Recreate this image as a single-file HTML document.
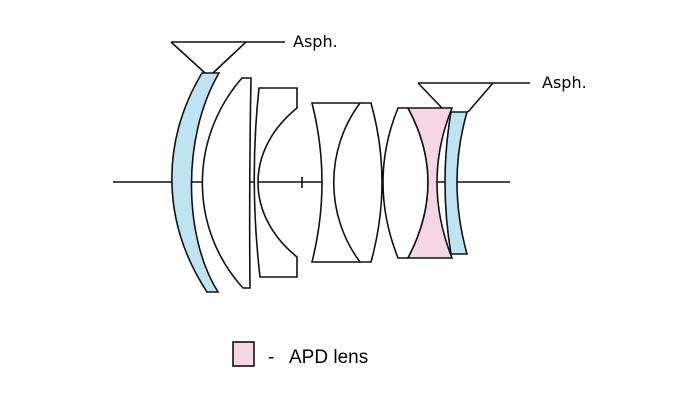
<!DOCTYPE html>
<html><head><style>
html,body{margin:0;padding:0;background:#fff;}
svg{display:block;}
</style></head><body>
<svg width="680" height="400" viewBox="0 0 680 400" xmlns="http://www.w3.org/2000/svg">
<g stroke="#111" stroke-width="1.6" fill="none">
<line x1="113" y1="182" x2="510" y2="182"/>
<line x1="302" y1="177" x2="302" y2="188"/>
<line x1="171" y1="42" x2="285" y2="42"/>
<line x1="171" y1="42" x2="205" y2="73"/>
<line x1="246" y1="42" x2="213" y2="73"/>
<line x1="418" y1="83" x2="530" y2="83"/>
<line x1="418" y1="83" x2="442" y2="108"/>
<line x1="493" y1="83" x2="468" y2="112"/>
<path d="M202,73 L219,73 C180,140 185,240 218,292 L207,292 C160,220 162,140 202,73 Z" fill="#bfe3f3"/>
<path d="M242,78 L251,78 Q249,182 250,288 L243,288 C190,230 188,140 242,78 Z" fill="#fff"/>
<path d="M259,88 L297,88 L297,108 C245,150 245,215 297,257 L297,277 L260,277 Q249,182 259,88 Z" fill="#fff"/>
<path d="M312,103 L371,103 Q393,182 371,262 L312,262 Q332,182 312,103 Z" fill="#fff"/>
<path d="M360,103 C325,150 325,215 360,262"/>
<path d="M398,108 L408,108 Q448,182 408,258 L398,258 Q368,182 398,108 Z" fill="#fff"/>
<path d="M408,108 L452,108 Q422,182 452,258 L408,258 Q448,182 408,108 Z" fill="#f6d6e4"/>
<path d="M451,112 L467,112 Q447,182 467,254 L451,254 Q439,182 451,112 Z" fill="#bfe3f3"/>
<rect x="233" y="342" width="21" height="24" fill="#f6d6e4"/>
</g>
<g font-family="'DejaVu Sans', sans-serif" font-size="16" fill="#000">
<text x="293" y="47">Asph.</text>
<text x="542" y="88">Asph.</text>
</g>
<g font-family="'Liberation Sans', sans-serif" font-size="19" fill="#000">
<text x="268" y="363">-</text>
<text x="289" y="363">APD lens</text>
</g>
</svg>
</body></html>
